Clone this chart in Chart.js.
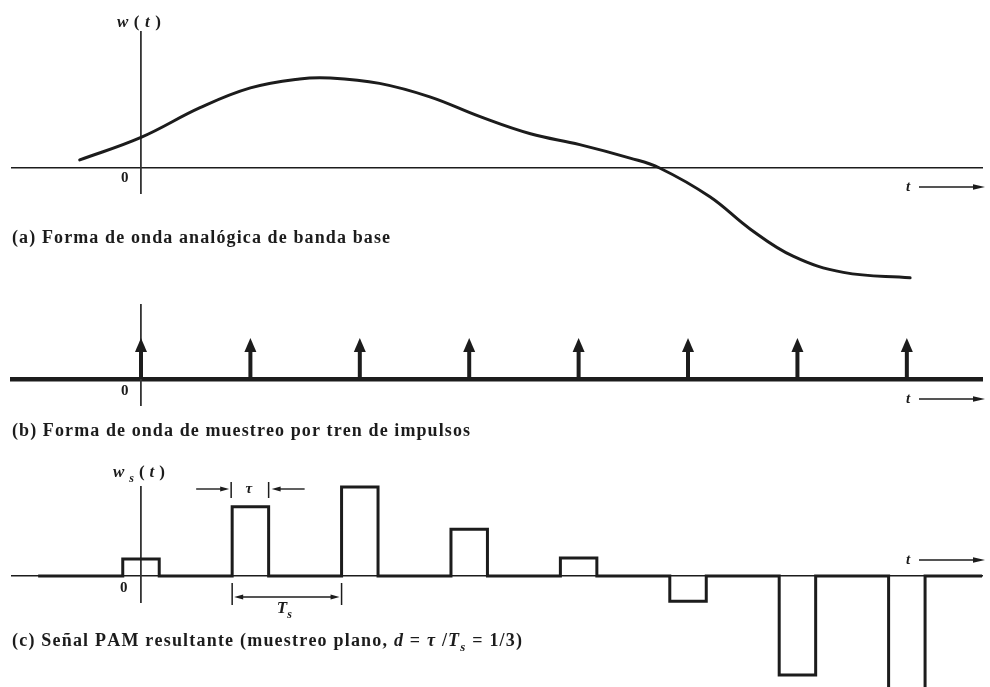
<!DOCTYPE html>
<html><head><meta charset="utf-8">
<script src="https://cdn.jsdelivr.net/npm/chart.js@4.4.0/dist/chart.umd.min.js"></script>
<style>
html,body{margin:0;padding:0;background:#fff;}
#wrap{position:relative;width:990px;height:687px;overflow:hidden;background:#fff;}
canvas{position:absolute;left:0;top:0;}
</style></head><body>
<div id="wrap">
<canvas id="ca" width="990" height="687"></canvas>
<canvas id="cb" width="990" height="687"></canvas>
<canvas id="cc" width="990" height="687"></canvas>
</div>
<script>
// ---------------- data (time in units of Ts) ----------------
const sampleTimes   = [0, 1, 2, 3, 4, 5, 6, 7];
const impulseValues = [1, 1, 1, 1, 1, 1, 1, 1];
const pamValues     = [0.19, 0.77, 0.99, 0.52, 0.20, -0.28, -1.10, -1.30];
const dutyCycle     = 1 / 3;            // tau / Ts
const analogT = [-0.56, 0.00, 0.54, 1.00, 1.45, 1.73, 2.18, 2.64, 3.10, 3.56, 4.01, 4.47, 4.74,
                 5.20, 5.57, 5.96, 6.42, 7.03];
const analogW = [0.09, 0.34, 0.67, 0.89, 0.99, 1.00, 0.94, 0.79, 0.57, 0.38, 0.26, 0.11, 0.00,
                 -0.32, -0.68, -0.98, -1.16, -1.22];
const pamStart = -0.94;
const captions = {
  a: '(a) Forma de onda analógica de banda base',
  b: '(b) Forma de onda de muestreo por tren de impulsos',
  c: '(c) Señal PAM resultante (muestreo plano, '
};

// ---------------- scale ranges ----------------
const XMIN = -1.179, XMAX = 7.687;
const A_Y = [-0.2778, 1.5111];
const B_Y = [-0.634, 1.805];
const C_Y = [-0.2889, 0.9889];

const INK = '#1c1c1c';
const FAM = '"Liberation Serif","Times New Roman",serif';

function fnt(s, size){ return (s.it?'italic ':'') + (s.b?'bold ':'') + (s.sub?Math.round(size*0.72):size) + 'px ' + FAM; }
function drawRich(ctx, segs, x, y, size, targetW){
  let w=0, n=0;
  segs.forEach(s=>{ ctx.font=fnt(s,size); for(const ch of s.s){ w+=ctx.measureText(ch).width; n++; } });
  const ls = targetW ? (targetW-w)/Math.max(1,n-1) : 0;
  let cx = x;
  ctx.fillStyle = INK; ctx.textBaseline='alphabetic'; ctx.textAlign='left';
  segs.forEach(s=>{ ctx.font=fnt(s,size); const dy = s.sub? size*0.3 : 0;
    for(const ch of s.s){ ctx.fillText(ch, cx, y+dy); cx += ctx.measureText(ch).width + ls; } });
}
function head(ctx, x, y, dir, len, half){
  ctx.beginPath();
  if(dir==='right'){ ctx.moveTo(x,y); ctx.lineTo(x-len,y-half); ctx.lineTo(x-len,y+half); }
  else if(dir==='left'){ ctx.moveTo(x,y); ctx.lineTo(x+len,y-half); ctx.lineTo(x+len,y+half); }
  else { ctx.moveTo(x,y); ctx.lineTo(x-half,y+len); ctx.lineTo(x+half,y+len); }
  ctx.closePath(); ctx.fill();
}
function line(ctx, x1,y1,x2,y2,w){ ctx.lineWidth=w; ctx.beginPath(); ctx.moveTo(x1,y1); ctx.lineTo(x2,y2); ctx.stroke(); }
function tArrow(ctx, z, dyText, dyArrow){
  ctx.save(); ctx.strokeStyle=INK; ctx.fillStyle=INK;
  drawRich(ctx, [{s:'t', it:true, b:true}], 906, z+dyText, 15);
  line(ctx, 919, z+dyArrow, 976, z+dyArrow, 1.6);
  head(ctx, 985, z+dyArrow, 'right', 12, 2.8);
  ctx.restore();
}

function axes(yr, xBorder, yBorder){
  return {
    x:{type:'linear', min:XMIN, max:XMAX, position:{y:0}, ticks:{display:false}, grid:{display:false, drawTicks:false},
       border:{display:true, color:INK, width:xBorder}},
    y:{type:'linear', min:yr[0], max:yr[1], position:{x:0}, ticks:{display:false}, grid:{display:false, drawTicks:false},
       border:{display:true, color:'#333', width:yBorder}}
  };
}
const base = (pad) => ({responsive:false, animation:false, events:[], layout:{padding:pad},
  plugins:{legend:{display:false}, tooltip:{enabled:false}}});

// ---------------- (a) analog waveform ----------------
new Chart(document.getElementById('ca'), {
  type:'line',
  data:{datasets:[{data: analogT.map((t,i)=>({x:t, y:analogW[i]})), borderColor:INK, borderWidth:3,
    pointRadius:0, tension:0.4, clip:false, fill:false, borderCapStyle:'round'}]},
  options: Object.assign(base({left:12, right:8, top:32, bottom:494}), {scales: axes(A_Y, 1.5, 1.8)}),
  plugins:[{id:'txtA', afterDraw(chart){
    const ctx=chart.ctx, xs=chart.scales.x, ys=chart.scales.y;
    const x0=xs.getPixelForValue(0), z=ys.getPixelForValue(0);
    ctx.save();
    drawRich(ctx, [{s:'w', it:true, b:true},{s:'(', b:true},{s:'t', it:true, b:true},{s:')', b:true}], x0-24, 27, 17, 44);
    drawRich(ctx, [{s:'0', b:true}], x0-20, z+14, 15);
    drawRich(ctx, [{s:captions.a, b:true}], 12, 243, 18, 378);
    tArrow(ctx, z, 23, 19);
    ctx.restore();
  }}]
});

// ---------------- (b) impulse train ----------------
new Chart(document.getElementById('cb'), {
  type:'scatter',
  data:{datasets:[{data: sampleTimes.map((t,i)=>({x:t, y:impulseValues[i]})), pointRadius:0, showLine:false}]},
  options: Object.assign(base({left:12, right:8, top:305, bottom:282}), {scales: axes(B_Y, 4.5, 1.8)}),
  plugins:[{id:'impulses', afterDatasetsDraw(chart){
    const ctx=chart.ctx, ys=chart.scales.y, z=ys.getPixelForValue(0);
    const meta=chart.getDatasetMeta(0);
    ctx.save(); ctx.strokeStyle=INK; ctx.fillStyle=INK;
    meta.data.forEach(pt=>{
      line(ctx, pt.x, z, pt.x, pt.y+12, 4);
      head(ctx, pt.x, pt.y, 'up', 14, 6);
    });
    ctx.restore();
  }, afterDraw(chart){
    const ctx=chart.ctx, xs=chart.scales.x, ys=chart.scales.y;
    const x0=xs.getPixelForValue(0), z=ys.getPixelForValue(0);
    ctx.save();
    drawRich(ctx, [{s:'0', b:true}], x0-20, z+16, 15);
    drawRich(ctx, [{s:captions.b, b:true}], 12, 436, 18, 458);
    tArrow(ctx, z, 24, 20);
    ctx.restore();
  }}]
});

// ---------------- (c) flat-top PAM ----------------
const pamPts = [{x:pamStart, y:0}];
sampleTimes.forEach((t,i)=>{
  const a=t-dutyCycle/2, b=t+dutyCycle/2;
  pamPts.push({x:a,y:0},{x:a,y:pamValues[i]},{x:b,y:pamValues[i]},{x:b,y:0});
});
pamPts.push({x:XMAX, y:0});

new Chart(document.getElementById('cc'), {
  type:'line',
  data:{datasets:[{data: pamPts, borderColor:INK, borderWidth:3, pointRadius:0, tension:0, clip:false,
    fill:false, borderJoinStyle:'miter'}]},
  options: Object.assign(base({left:12, right:8, top:487, bottom:85}), {scales: axes(C_Y, 1.5, 1.8)}),
  plugins:[{id:'annC', afterDraw(chart){
    const ctx=chart.ctx, xs=chart.scales.x, ys=chart.scales.y;
    const x0=xs.getPixelForValue(0), z=ys.getPixelForValue(0);
    const l=xs.getPixelForValue(sampleTimes[1]-dutyCycle/2), r=xs.getPixelForValue(sampleTimes[1]+dutyCycle/2);
    const l2=xs.getPixelForValue(sampleTimes[2]-dutyCycle/2);
    ctx.save(); ctx.strokeStyle=INK; ctx.fillStyle=INK;
    // tau marker
    const ty=z-87;
    line(ctx, l-1, ty-7, l-1, ty+9, 1.5);
    line(ctx, r, ty-7, r, ty+9, 1.5);
    line(ctx, l-36, ty, l-10, ty, 1.4); head(ctx, l-3, ty, 'right', 9, 2.6);
    line(ctx, r+36, ty, r+10, ty, 1.4); head(ctx, r+3, ty, 'left', 9, 2.6);
    drawRich(ctx, [{s:'τ', it:true, b:true}], (l+r)/2-5, ty+4, 15);
    // Ts marker
    const sy=z+21;
    line(ctx, l, z+7, l, z+29, 1.5);
    line(ctx, l2, z+7, l2, z+29, 1.5);
    line(ctx, l+10, sy, l2-10, sy, 1.4);
    head(ctx, l+2, sy, 'left', 9, 2.6); head(ctx, l2-2, sy, 'right', 9, 2.6);
    drawRich(ctx, [{s:'T', it:true, b:true},{s:'s', it:true, b:true, sub:true}], (l+l2)/2-10, z+37, 17);
    // labels
    drawRich(ctx, [{s:'w', it:true, b:true},{s:'s', it:true, b:true, sub:true},{s:'(', b:true},{s:'t', it:true, b:true},{s:')', b:true}], x0-28, 477, 17, 52);
    drawRich(ctx, [{s:'0', b:true}], x0-21, z+16, 15);
    drawRich(ctx, [{s:captions.c, b:true},{s:'d', it:true, b:true},{s:' = ', b:true},{s:'τ', it:true, b:true},{s:' /', b:true},{s:'T', it:true, b:true},{s:'s', it:true, b:true, sub:true},{s:' = 1/3)', b:true}], 12, 646, 18, 510);
    tArrow(ctx, z, -12, -16);
    ctx.restore();
  }}]
});
</script>
</body></html>
